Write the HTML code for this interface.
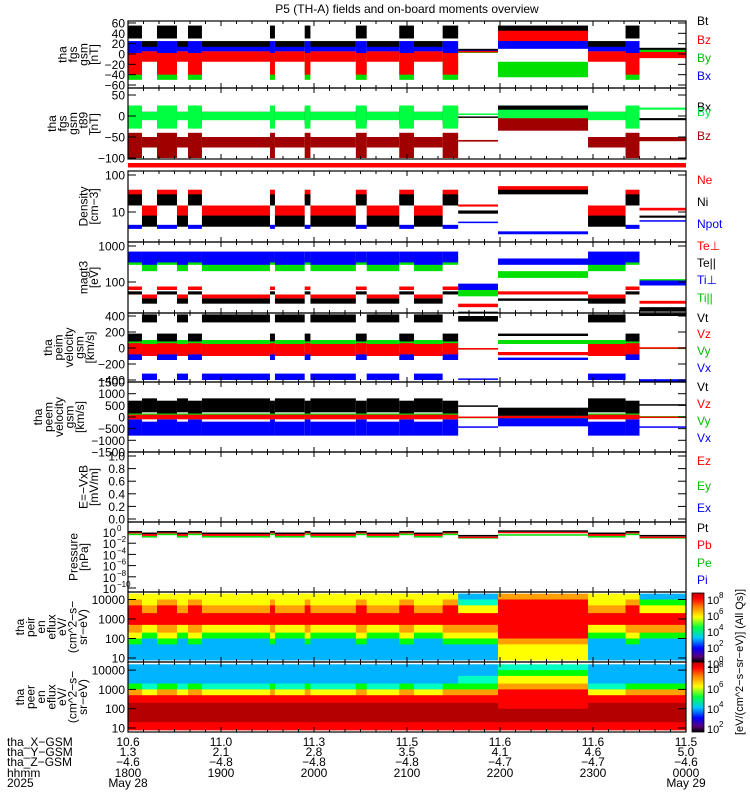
<!DOCTYPE html>
<html><head><meta charset="utf-8"><style>
html,body{margin:0;padding:0;background:#fff;}
svg{display:block;font-family:"Liberation Sans",sans-serif;}
</style></head><body>
<svg id="chart" width="750" height="800" viewBox="0 0 750 800" xmlns="http://www.w3.org/2000/svg">
<defs>
<linearGradient id="cbar" x1="0" y1="1" x2="0" y2="0">
<stop offset="0" stop-color="#000"/><stop offset="0.08" stop-color="#5a007a"/><stop offset="0.2" stop-color="#0000ff"/><stop offset="0.35" stop-color="#00c8ff"/><stop offset="0.5" stop-color="#00ff40"/><stop offset="0.65" stop-color="#ffff00"/><stop offset="0.8" stop-color="#ff8000"/><stop offset="0.92" stop-color="#ff0000"/><stop offset="1" stop-color="#c00000"/>
</linearGradient>
</defs>
<text x="407" y="13" font-size="12" text-anchor="middle">P5 (TH-A) fields and on-board moments overview</text>
<g id="marks"></g>
<g id="axes"></g>
</svg>
<script>
// ---- time segments (minutes since 18:00) and plasma regime per segment
const segStart=[0,9,18.7,31.6,38.7,47.7,91.6,94.8,114,117.7,147,154,175,184.5,203,213,238.7,296.8,321,330];
const segType=['H','L','H','L','H','L','H','L','H','L','H','L','H','L','H','F','G','L','H','E'];
const tEnd=360;
// Panel 1 fgs gsm (nT) [lo,hi]
const bt={H:[30,55],L:[12,25],F:[5,10],G:[40,55],E:[6,12]};
const bx1={H:[0,25],L:[5,14],F:[4,7],G:[10,30],E:[0,8]};
const by1={H:[-50,-8],L:[-10,4],F:[2,5],G:[-45,-15],E:[-2,8]};
const bz1={H:[-40,2],L:[-15,5],F:[3,6],G:[25,45],E:[-8,4]};
// Panel 2 fgs gsm - t89
const bx2={H:[-20,20],L:[-5,10],F:[-3,-1],G:[5,25],E:[-10,-5]};
const by2={H:[-30,25],L:[-10,10],F:[4,6],G:[-5,15],E:[15,20]};
const bz2={H:[-100,-40],L:[-75,-50],F:[-61,-57],G:[-35,-5],E:[-60,-50]};
// Panel 3 density (cm-3)
const ne={H:[20,40],L:[7,15],F:[14,16],G:[35,50],E:[11,13]};
const ni={H:[15,30],L:[4,8],F:[9,11],G:[30,40],E:[7,8]};
const npot={H:[3.5,4.5],L:null,F:[5,5.5],G:[2.5,3],E:[5.5,6]};
// Panel 4 temperature (eV)
const tip={H:[350,700],L:[300,700],F:[60,90],G:[300,450],E:[80,110]};
const tipar={H:[300,500],L:[200,500],F:[40,60],G:[130,200],E:[80,120]};
const tep={H:[60,75],L:[35,45],F:[20,25],G:[45,55],E:[25,30]};
const tepar={H:[45,55],L:[25,35],F:[12,15],G:[30,35],E:[15,20]};
// Panel 5 ion velocity (km/s)
const vti={H:[80,180],L:[320,420],F:[330,400],G:[150,180],E:[400,430]};
const vzi={H:[-80,60],L:[-100,50],F:[-20,0],G:[-90,-50],E:[-10,10]};
const vyi={H:[0,80],L:[20,100],F:[-20,0],G:[50,100],E:[-10,5]};
const vxi={H:[-150,-50],L:[-400,-320],F:[-390,-380],G:[-150,-120],E:[-420,-390]};
// Panel 6 electron velocity
const vte={H:[100,700],L:[200,800],F:[450,500],G:[0,400],E:[500,550]};
const vze={H:[-100,100],L:[-100,100],F:[-20,20],G:[-50,50],E:[-20,20]};
const vye={H:[-50,150],L:[-50,150],F:[-10,10],G:[-50,50],E:[20,40]};
const vxe={H:[-800,-100],L:[-800,-200],F:[-450,-400],G:[-400,0],E:[-450,-400]};
// Panel 8 pressure (nPa)
const pt={H:[1,1.5],L:[0.5,0.8],F:[0.25,0.3],G:[1.5,2],E:[0.2,0.3]};
const pb={H:[0.6,1],L:[0.2,0.5],F:[0.1,0.15],G:[0.9,1.1],E:[0.1,0.15]};
const pe={H:[0.3,0.5],L:[0.1,0.2],F:[0.1,0.12],G:[0.3,0.4],E:[0.1,0.12]};
// Spectrograms: energy bin edges (eV) and colour level per bin (top->bottom)
const eEdges=[20000,10000,5000,2000,1000,500,200,100,50,20,8];
const ionSpec={L:[6,6,7,8,8,6,5,3,3,3],H:[6,7,8,8,8,7,6,5,3,3],F:[3,4,6,8,8,7,6,5,3,3],G:[7,8,8,8,8,8,8,7,6,6],E:[3,5,6,8,8,7,5,3,3,3]};
const eleSpec={L:[3,3,3,4,6,8,9,9,9,8],H:[3,3,3,5,7,8,9,9,9,8],F:[3,3,4,5,7,8,9,9,9,8],G:[4,5,6,7,8,8,8,9,9,8],E:[3,3,3,5,7,8,9,9,9,8]};
const cmap=['#000000','#5a007a','#0000ff','#00b4ff','#00ffc0','#00ff00','#ffff00','#ffa000','#ff0000','#b40000'];
// Bottom ephemeris
const xGsm=['10.6','11.0','11.3','11.5','11.6','11.6','11.5'];
const yGsm=['1.3','2.1','2.8','3.5','4.1','4.6','5.0'];
const zGsm=['-4.6','-4.8','-4.8','-4.8','-4.7','-4.7','-4.6'];
const hhmm=['1800','1900','2000','2100','2200','2300','0000'];

const NS='http://www.w3.org/2000/svg';
const X0=128,X1=686;
const xs=m=>X0+(m/tEnd)*(X1-X0);
const marks=document.getElementById('marks'),axes=document.getElementById('axes');
function mk(tag,attrs,parent){const e=document.createElementNS(NS,tag);for(const k in attrs)e.setAttribute(k,attrs[k]);(parent||marks).appendChild(e);return e;}

const panels=[
 {name:'fgs-gsm',top:21,bot:88,y:v=>54-v*0.517},
 {name:'fgs-gsm-t89',top:88,bot:159,y:v=>116-v*0.42},
 {name:'density',top:171,bot:242,y:v=>212-(Math.log10(v)-1)*37},
 {name:'temperature',top:242,bot:313,y:v=>282-(Math.log10(v)-2)*36},
 {name:'ion-velocity',top:313,bot:382,y:v=>348-v*0.08},
 {name:'electron-velocity',top:382,bot:452,y:v=>417-v*0.0233},
 {name:'e-field',top:452,bot:522,y:v=>519-v*63},
 {name:'pressure',top:522,bot:592,y:v=>532-Math.log10(v)*5.6},
 {name:'ion-spectrogram',top:592,bot:662,y:e=>658-(Math.log10(e)-1)*19.5},
 {name:'electron-spectrogram',top:662,bot:732,y:e=>728-(Math.log10(e)-1)*19.3}
];
function clampY(p,y){return Math.max(p.top,Math.min(p.bot,y));}
function band(p,series,color,nm){
 const g=mk('g',{});
 
 
 for(let i=0;i<segStart.length;i++){
  const r=series[segType[i]]; if(!r) continue;
  const x0=xs(segStart[i]),x1=xs(i+1<segStart.length?segStart[i+1]:tEnd);
  const ya=clampY(p,p.y(r[1])),yb=clampY(p,p.y(r[0]));
  const el=mk('rect',{x:x0,y:ya,width:Math.max(0.5,x1-x0),height:Math.max(1.5,yb-ya),fill:color},g);
  
  
 }
}
const P=panels;
band(P[0],bt,'#000','bt-trace');band(P[0],bx1,'#0000ff','bx-trace');band(P[0],by1,'#00e000','by-trace');band(P[0],bz1,'#ff0000','bz-trace');
band(P[1],bx2,'#000','bx-t89-trace');band(P[1],bz2,'#a00000','bz-t89-trace');band(P[1],by2,'#00ff40','by-t89-trace');
band(P[2],ne,'#ff0000','ne-trace');band(P[2],ni,'#000','ni-trace');band(P[2],npot,'#0000ff','npot-trace');
band(P[3],tipar,'#00e000','ti-par-trace');band(P[3],tip,'#0000ff','ti-perp-trace');band(P[3],tep,'#ff0000','te-perp-trace');band(P[3],tepar,'#000','te-par-trace');
band(P[4],vti,'#000','vt-ion-trace');band(P[4],vxi,'#0000ff','vx-ion-trace');band(P[4],vyi,'#00e000','vy-ion-trace');band(P[4],vzi,'#ff0000','vz-ion-trace');
band(P[5],vte,'#000','vt-ele-trace');band(P[5],vxe,'#0000ff','vx-ele-trace');band(P[5],vye,'#00e000','vy-ele-trace');band(P[5],vze,'#ff0000','vz-ele-trace');
band(P[7],pe,'#00e000','pe-trace');band(P[7],pb,'#ff0000','pb-trace');band(P[7],pt,'#000','pt-trace');

function spec(p,tab,nm){
 const g=mk('g',{});
 
 
 for(let i=0;i<segStart.length;i++){
  const lv=tab[segType[i]];
  const x0=xs(segStart[i]),x1=xs(i+1<segStart.length?segStart[i+1]:tEnd);
  for(let b=0;b<lv.length;b++){
   const ya=clampY(p,p.y(eEdges[b])),yb=clampY(p,p.y(eEdges[b+1]));
   const el=mk('rect',{x:x0,y:ya,width:x1-x0+0.5,height:yb-ya+0.5,fill:cmap[lv[b]]},g);
   
   
  }
 }
}
spec(P[8],ionSpec,'ion-eflux-cells');
spec(P[9],eleSpec,'electron-eflux-cells');

// red status bar
const rb=mk('rect',{x:X0,y:163,width:X1-X0,height:4.5,fill:'#ff0000'},axes);



// frames and time ticks
panels.forEach(p=>{
 const f=mk('rect',{x:X0,y:p.top,width:X1-X0,height:p.bot-p.top,fill:'none',stroke:'#000','stroke-width':1.2},axes);
 
 
 for(let m=0;m<=tEnd;m+=10){
  const L=(m%60===0)?5:3;
  mk('line',{x1:xs(m),x2:xs(m),y1:p.top,y2:p.top+L,stroke:'#000'},axes);
  mk('line',{x1:xs(m),x2:xs(m),y1:p.bot,y2:p.bot-L,stroke:'#000'},axes);
 }
});
// y tick labels
const yTicks=[
 [0,[60,40,20,0,-20,-40,-60],v=>String(v).replace('-','\u2212')],
 [1,[50,0,-50,-100],v=>String(v).replace('-','\u2212')],
 [2,[100,10],v=>String(v)],
 [3,[1000,100],v=>String(v)],
 [4,[400,200,0,-200,-400],v=>String(v).replace('-','\u2212')],
 [5,[1500,1000,500,0,-500,-1000,-1500],v=>String(v).replace('-','\u2212')],
 [6,[1.0,0.8,0.6,0.4,0.2,0.0],v=>v.toFixed(1)],
 [8,[10000,1000,100,10],v=>String(v)],
 [9,[10000,1000,100,10],v=>String(v)]
];
yTicks.forEach(([pi,vals,fmt])=>{
 const p=panels[pi];
 vals.forEach(v=>{
  const y=p.y(v);
  mk('line',{x1:X0,x2:X0+8,y1:y,y2:y,stroke:'#000'},axes);
  mk('line',{x1:X1,x2:X1-8,y1:y,y2:y,stroke:'#000'},axes);
  const t=mk('text',{x:X0-3,y:y+4.5,'font-size':12,'text-anchor':'end'},axes);
  t.textContent=fmt(v);
  
  
 });
});
// pressure log labels
[0,-2,-4,-6,-8,-10].forEach(e=>{
 const y=panels[7].y(Math.pow(10,e));
 mk('line',{x1:X0,x2:X0+8,y1:y,y2:y,stroke:'#000'},axes);
 const t=mk('text',{x:X0-12,y:y+5,'font-size':12,'text-anchor':'end'},axes);
 t.textContent='10';
 
 
 const s=mk('text',{x:X0-11,y:y-1,'font-size':8,'text-anchor':'start'},axes);
 s.textContent=e===0?'0':'\u2212'+(-e);
});
// left panel titles (rotated)
const leftTitles=[
 ['tha','fgs','gsm','[nT]'],
 ['tha','fgs','gsm','_t89','[nT]'],
 ['Density','[cm\u22123]'],
 ['magt3','[eV]'],
 ['tha','peim','velocity','gsm','[km/s]'],
 ['tha','peem','velocity','gsm','[km/s]'],
 ['E=\u2212VxB','[mV/m]'],
 ['Pressure','[nPa]'],
 ['tha','peir','en','eflux','eV/','(cm^2\u2212s\u2212','sr\u2212eV)'],
 ['tha','peer','en','eflux','eV/','(cm^2\u2212s\u2212','sr\u2212eV)']
];
const rightEdge=[94,94,94,94,90,80,94,84,83,83];
leftTitles.forEach((lines,i)=>{
 const p=panels[i];const n=lines.length;
 const cx=rightEdge[i]-(n-1)*10.5;const cy=(p.top+p.bot)/2;
 const g=mk('g',{transform:`translate(${cx},${cy}) rotate(-90)`},axes);
 
 
 lines.forEach((ln,j)=>{const t=mk('text',{x:0,y:j*10.5+4,'font-size':12,'text-anchor':'middle'},g);t.textContent=ln;});
});
// right legends
const legends=[
 ['Bt','#000',25],['Bz','#ff0000',44],['By','#00c000',62],['Bx','#0000ff',80],
 ['Bx','#000',111],['By','#00e040',116],['Bz','#a00000',140],
 ['Ne','#ff0000',184],['Ni','#000',206],['Npot','#0000ff',228],
 ['Te\u22a5','#ff0000',250],['Te||','#000',267],['Ti\u22a5','#0000ff',284],['Ti||','#00c000',302],
 ['Vt','#000',322],['Vz','#ff0000',338],['Vy','#00c000',355],['Vx','#0000ff',372],
 ['Vt','#000',391],['Vz','#ff0000',408],['Vy','#00c000',425],['Vx','#0000ff',442],
 ['Ez','#ff0000',465],['Ey','#00c000',490],['Ex','#0000ff',512],
 ['Pt','#000',532],['Pb','#ff0000',549],['Pe','#00c000',567],['Pi','#0000ff',584]
];
legends.forEach(([s,c,y])=>{
 const t=mk('text',{x:697,y:y,'font-size':12,fill:c},axes);
 t.textContent=s;
 
 
});
// colorbars
[[593,662],[662,732]].forEach(([a,b],k)=>{
 const r=mk('rect',{x:692,y:a,width:12,height:b-a,fill:'url(#cbar)',stroke:'#000','stroke-width':0.8},axes);
 
 
 const exps=k?['8','6','4','2']:['8','6','4','2','0'];
 exps.forEach((e,j)=>{
  const y=a+6+j*(k?20:16);
  const t=mk('text',{x:707,y:y+5,'font-size':11},axes);t.textContent='10';
  const s=mk('text',{x:719,y:y-1,'font-size':8},axes);s.textContent=e;
 });
});
const cbt=mk('text',{x:0,y:0,'font-size':11,'text-anchor':'middle',transform:'translate(743,662) rotate(-90)'},axes);
cbt.textContent='[eV/(cm^2\u2212s\u2212sr\u2212eV)] (All Qs)]';


// bottom ephemeris labels
const rowY=[746,756,766,777,787];
['tha_X\u2212GSM','tha_Y\u2212GSM','tha_Z\u2212GSM','hhmm','2025'].forEach((s,i)=>{
 const t=mk('text',{x:7,y:rowY[i],'font-size':12},axes);t.textContent=s;
 
 
});
[xGsm,yGsm,zGsm.map(v=>v.replace('-','\u2212')),hhmm].forEach((arr,r)=>{
 arr.forEach((v,i)=>{
  const t=mk('text',{x:xs(i*60),y:rowY[r],'font-size':12,'text-anchor':'middle'},axes);t.textContent=v;
  
  
 });
});
const d1=mk('text',{x:xs(0),y:rowY[4],'font-size':12,'text-anchor':'middle'},axes);d1.textContent='May 28';
const d2=mk('text',{x:xs(360),y:rowY[4],'font-size':12,'text-anchor':'middle'},axes);d2.textContent='May 29';
</script>
</body></html>
